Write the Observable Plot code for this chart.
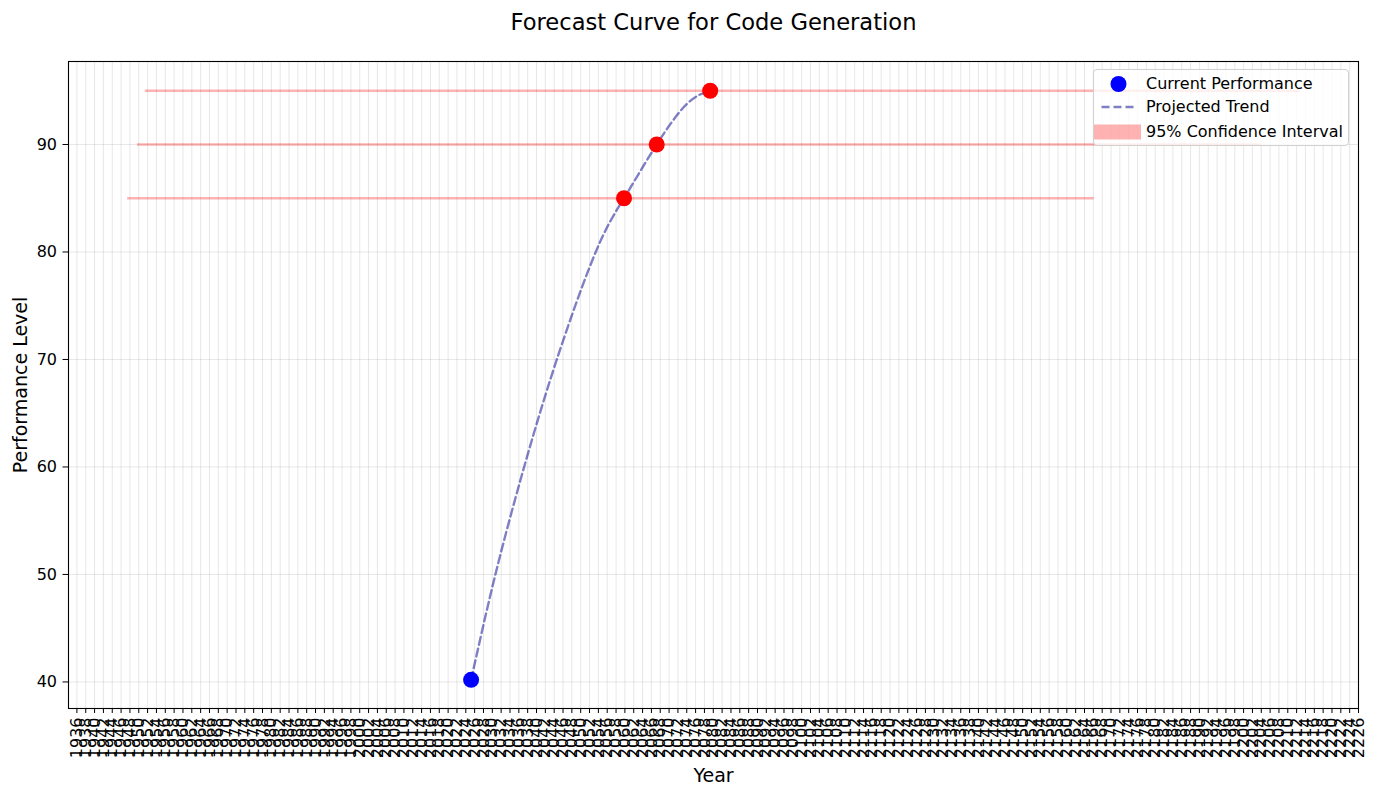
<!DOCTYPE html>
<html>
<head>
<meta charset="utf-8">
<script src="https://cdn.jsdelivr.net/npm/d3@7"></script>
<script src="https://cdn.jsdelivr.net/npm/@observablehq/plot@0.6"></script>
<style>
  html, body { margin: 0; padding: 0; background: #fff; }
  #wrap { position: relative; width: 1376px; height: 797px; font-family: "DejaVu Sans", sans-serif; }
  #legend { position: absolute; left: 1093px; top: 69px; width: 256px; height: 77px; box-sizing: border-box;
    border: 1px solid #d0d0d0; border-radius: 4px; background: rgba(255,255,255,0.8); }
  .item { position: absolute; left: 52px; font-size: 16px; color: #000; line-height: 1; white-space: nowrap; }
</style>
</head>
<body>
<div id="wrap"></div>
<script>
// ---- data ----
const titleText = "Forecast Curve for Code Generation";
const xLabel = "Year";
const yLabel = "Performance Level";

const currentYears = [2025.2];
const currentValues = [40.2];

const trendYears  = [2025.2, 2030.7, 2037.2, 2044.6, 2053.4, 2059.8, 2067.2, 2074.1, 2079.3];
const trendValues = [40.2,   50,     60,     70,     80,     85,     90,     93.8,   95];

const milestoneYears  = [2059.8, 2067.2, 2079.3];
const milestoneValues = [85, 90, 95];

const ciLower = [1947.5, 1949.7, 1951.5];
const ciUpper = [2166.2, 2204.0, 2212.8];

const xTicks = d3.range(1936, 2227, 2);
const yTicks = [40, 50, 60, 70, 80, 90];

const legendLabels = ["Current Performance", "Projected Trend", "95% Confidence Interval"];

// ---- tables ----
const current = currentYears.map((x, i) => ({x, y: currentValues[i]}));
const trend = trendYears.map((x, i) => ({x, y: trendValues[i]}));
const milestones = milestoneYears.map((x, i) => ({x, y: milestoneValues[i]}));
const ci = milestoneValues.map((y, i) => ({x1: ciLower[i], x2: ciUpper[i], y}));

const chart = Plot.plot({
  width: 1376,
  height: 797,
  marginTop: 61,
  marginBottom: 89,
  marginLeft: 68,
  marginRight: 18,
  style: {fontFamily: "DejaVu Sans, sans-serif", background: "#fff", color: "#000"},
  x: {domain: [1934.1, 2226], type: "linear"},
  y: {domain: [37.53, 97.72]},
  marks: [
    Plot.gridX(xTicks, {stroke: "#b0b0b0", strokeOpacity: 0.3, strokeWidth: 1}),
    Plot.gridY(yTicks, {stroke: "#b0b0b0", strokeOpacity: 0.3, strokeWidth: 1}),
    Plot.ruleY(ci, {x1: "x1", x2: "x2", y: "y", stroke: "red", strokeOpacity: 0.3, strokeWidth: 2.5}),
    Plot.line(trend, {x: "x", y: "y", stroke: "#00008b", strokeOpacity: 0.5, strokeWidth: 2.4, strokeDasharray: "8,4", curve: "natural"}),
    Plot.dot(current, {x: "x", y: "y", r: 8, fill: "blue", stroke: "none"}),
    Plot.dot(milestones, {x: "x", y: "y", r: 8, fill: "red", stroke: "none"}),
    Plot.frame({stroke: "#000", strokeWidth: 1.1}),
    Plot.axisX({ticks: xTicks, tickFormat: d => String(d), tickRotate: -90, tickSize: 5, tickPadding: 4, fontSize: 16, label: null}),
    Plot.axisY({ticks: yTicks, tickFormat: d => String(d), tickSize: 5.5, tickPadding: 6, fontSize: 16, label: null}),
    Plot.text([titleText], {frameAnchor: "top", dy: -39, lineAnchor: "middle", fontSize: 22.6, fill: "#000"}),
    Plot.text([xLabel], {frameAnchor: "bottom", dy: 67, lineAnchor: "middle", fontSize: 19, fill: "#000"}),
    Plot.text([yLabel], {frameAnchor: "left", dx: -48, rotate: -90, textAnchor: "middle", lineAnchor: "middle", fontSize: 19, fill: "#000"})
  ]
});

const wrap = document.getElementById("wrap");
wrap.appendChild(chart);

const legend = document.createElement("div");
legend.id = "legend";
legend.innerHTML = `
  <svg width="254" height="75" style="position:absolute;left:0;top:0">
    <circle cx="24.5" cy="14" r="8" fill="blue"/>
    <line x1="7.5" x2="39.5" y1="37" y2="37" stroke="#00008b" stroke-opacity="0.5" stroke-width="2.4" stroke-dasharray="8,4"/>
    <rect x="0" y="54.5" width="47" height="15" fill="red" fill-opacity="0.3"/>
  </svg>
  <div class="item" style="top:6px">${legendLabels[0]}</div>
  <div class="item" style="top:29px">${legendLabels[1]}</div>
  <div class="item" style="top:54px">${legendLabels[2]}</div>`;
wrap.appendChild(legend);
</script>
</body>
</html>
